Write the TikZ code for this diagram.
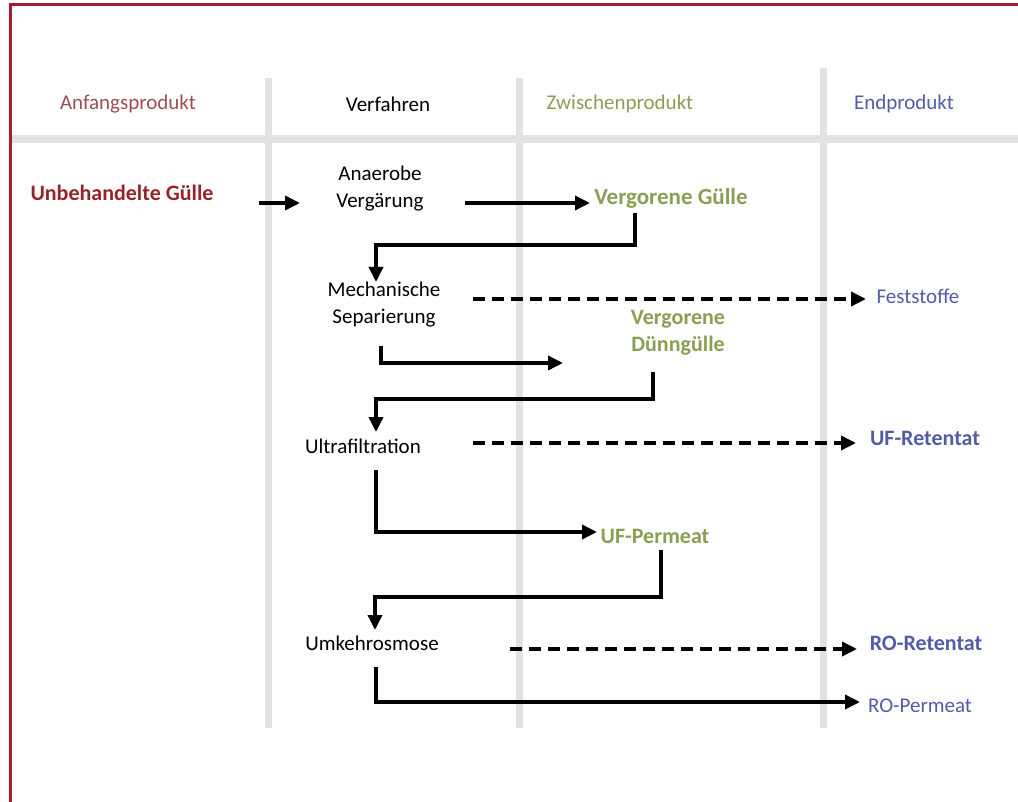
\documentclass[tikz,border=0pt]{standalone}
\usepackage{fontspec}
\setmainfont{Carlito}
\usetikzlibrary{arrows.meta,calc}
\definecolor{rahmen}{RGB}{165,30,45}
\definecolor{gitter}{RGB}{226,226,229}
\definecolor{anfang}{RGB}{158,78,82}
\definecolor{guelle}{RGB}{150,35,42}
\definecolor{zwischen}{RGB}{138,158,84}
\definecolor{ende}{RGB}{82,92,168}
\begin{document}
\begin{tikzpicture}[x=1pt,y=-1pt,
		flow/.style={line width=3.5pt,-{Triangle[length=15pt,width=14pt]}},
		rest/.style={flow,dash pattern=on 12pt off 7pt},
		grid/.style={line width=7pt,gitter},
		head/.style={font=\fontsize{21}{24}\selectfont},
		txt/.style={font=\fontsize{21}{27}\selectfont,align=center},
		prod/.style={font=\fontsize{22}{27}\selectfont\bfseries,align=center}
		]
	\useasboundingbox (0,0) rectangle (1018,802);
	% frame and table lines
	\draw[rahmen,line width=3pt] (10,802) -- (10,5) -- (1018,5);
	\draw[grid,line width=8pt] (12,139) -- (1018,139);
	\draw[grid] (268,78) -- (268,728);
	\draw[grid] (519,78) -- (519,728);
	\draw[grid] (823,68) -- (823,728);
	% headers
	\node [head,anfang] (h1) at (128,104) {Anfangsprodukt};
	\node [head] (h2) at (388,104) {Verfahren};
	\node [head,zwischen] (h3) at (620,104) {Zwischenprodukt};
	\node [head,ende] (h4) at (904,104) {Endprodukt};
	% entries
	\node [prod,guelle] (ug) at (122,193) {Unbehandelte Gülle};
	\node [txt] (av) at (380,189) {Anaerobe\\Vergärung};
	\node [prod,zwischen,font=\fontsize{23}{27}\selectfont\bfseries] (vg) at (671,198) {Vergorene Gülle};
	\node [txt] (ms) at (384,305) {Mechanische\\Separierung};
	\node [txt,ende] (fs) at (918,296) {Feststoffe};
	\node [prod,zwischen] (vd) at (678,333) {Vergorene\\Dünngülle};
	\node [txt] (uf) at (363,446) {Ultrafiltration};
	\node [prod,ende] (ufr) at (925,438) {UF-Retentat};
	\node [prod,zwischen] (ufp) at (655,536) {UF-Permeat};
	\node [txt] (ro) at (372,643) {Umkehrosmose};
	\node [prod,ende] (ror) at (926,643) {RO-Retentat};
	\node [txt,ende] (rop) at (920,706) {RO-Permeat};
	% connectors
	\draw[flow] ($(ug)+(137,10)$) -- ($(av)+(-80,14)$);
	\draw[flow] ($(av)+(85,14)$) -- ($(vg)+(-81,5)$);
	\draw[flow] ($(vg)+(-36,15)$) -- ++(0,32) -| ($(ms)+(-8,-23)$);
	\draw[rest] ($(ms)+(89,-6)$) -- ($(fs)+(-52,3)$);
	\draw[flow] ($(ms)+(-3,41)$) |- ($(vd)+(-115,30)$);
	\draw[flow] ($(vd)+(-25,39)$) -- ++(0,27) -| ($(uf)+(13,-14)$);
	\draw[rest] ($(uf)+(110,-3)$) -- ($(ufr)+(-69,5)$);
	\draw[flow] ($(uf)+(13,24)$) |- ($(ufp)+(-58,-4)$);
	\draw[flow] ($(ufp)+(6,14)$) -- ++(0,47) -| ($(ro)+(3,-13)$);
	\draw[rest] ($(ro)+(138,6)$) -- ($(ror)+(-69,6)$);
	\draw[flow] ($(ro)+(4,24)$) |- ($(rop)+(-60,-4)$);
\end{tikzpicture}
\end{document}
